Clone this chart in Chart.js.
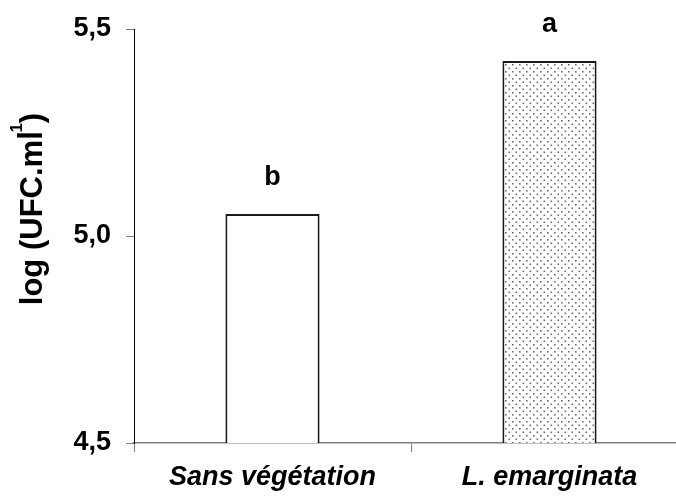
<!DOCTYPE html>
<html>
<head>
<meta charset="utf-8">
<script src="https://cdn.jsdelivr.net/npm/chart.js@4"></script>
<style>
  html, body { margin: 0; padding: 0; overflow: hidden; background: #fff; }
  #wrap { width: 690px; height: 497px; position: relative; }
</style>
</head>
<body>
<div id="wrap"><canvas id="chart"></canvas></div>
<script>
const categories = ['Sans végétation', 'L. emarginata'];
const valeurs = [5.053, 5.423];
const lettres = ['b', 'a'];
const yTicks = [4.5, 5.0, 5.5];
const titreY = 'log (UFC.ml';
const exposant = '-1';

const police = '"Liberation Sans", Arial, sans-serif';

// motif pointillé pour la 2e barre
function motifPoints() {
  const c = document.createElement('canvas');
  c.width = 7; c.height = 7;
  const g = c.getContext('2d');
  g.fillStyle = '#fff';
  g.fillRect(0, 0, 7, 7);
  g.fillStyle = '#6e6e6e';
  g.fillRect(1, 1, 1.6, 1.6);
  g.fillRect(4.5, 4.5, 1.6, 1.6);
  return g.createPattern(c, 'repeat');
}

const ctx = document.getElementById('chart').getContext('2d');

// lettres au-dessus des barres + titre de l'axe Y
const annotations = {
  id: 'annotations',
  afterDraw(chart) {
    const c = chart.ctx;
    const x = chart.scales.x, y = chart.scales.y;
    c.save();
    c.fillStyle = '#000';
    c.font = 'bold 27px ' + police;
    c.textAlign = 'center';
    c.textBaseline = 'alphabetic';
    valeurs.forEach((v, i) => {
      c.fillText(lettres[i], x.getPixelForValue(i), y.getPixelForValue(v) - 29);
    });
    c.translate(34, 209);
    c.rotate(-Math.PI / 2);
    const grand = 'bold 31px ' + police, petit = 'bold 17px ' + police;
    c.font = grand;
    const w1 = c.measureText(titreY).width;
    const w3 = c.measureText(')').width;
    c.font = petit;
    const w2 = c.measureText(exposant).width;
    const chevauche = 7;
    const total = w1 + w2 - chevauche + w3;
    c.textAlign = 'left';
    c.textBaseline = 'alphabetic';
    let cx = -total / 2;
    c.font = grand;
    c.fillText(titreY, cx, 8);
    cx += w1 - chevauche;
    c.font = petit;
    c.fillText(exposant, cx, -12);
    cx += w2;
    c.font = grand;
    c.fillText(')', cx, 8);
    c.restore();
  }
};

new Chart(ctx, {
  type: 'bar',
  data: {
    labels: categories,
    datasets: [{
      data: valeurs,
      backgroundColor: ['#ffffff', motifPoints()],
      borderColor: '#1a1a1a',
      borderWidth: 2,
      borderSkipped: false,
      barPercentage: 0.34,
      categoryPercentage: 1.0
    }]
  },
  options: {
    responsive: true,
    maintainAspectRatio: false,
    animation: false,
    layout: { padding: { top: 29, right: 2, left: 0, bottom: 0 } },
    plugins: { legend: { display: false }, tooltip: { enabled: false } },
    scales: {
      x: {
        offset: true,
        border: { color: '#808080', width: 1.5 },
        grid: { drawOnChartArea: false, drawTicks: true, tickLength: 9, color: '#808080' },
        ticks: {
          color: '#000',
          padding: 9,
          font: { family: police, size: 27, weight: 'bold', style: 'italic' }
        },
        afterFit(s) { s.height = 54; s.paddingLeft = 0; s.paddingRight = 0; }
      },
      y: {
        min: 4.5,
        max: 5.5,
        border: { color: '#000', width: 1 },
        grid: { drawOnChartArea: false, drawTicks: true, tickLength: 8, color: '#808080' },
        afterBuildTicks(s) { s.ticks = yTicks.map(v => ({ value: v })); },
        ticks: {
          color: '#000',
          padding: 15,
          font: { family: police, size: 27, weight: 'bold' },
          callback: v => v.toFixed(1).replace('.', ',')
        },
        afterFit(s) { s.width = 134; s.paddingTop = 0; s.paddingBottom = 0; }
      }
    }
  },
  plugins: [annotations]
});
</script>
</body>
</html>
